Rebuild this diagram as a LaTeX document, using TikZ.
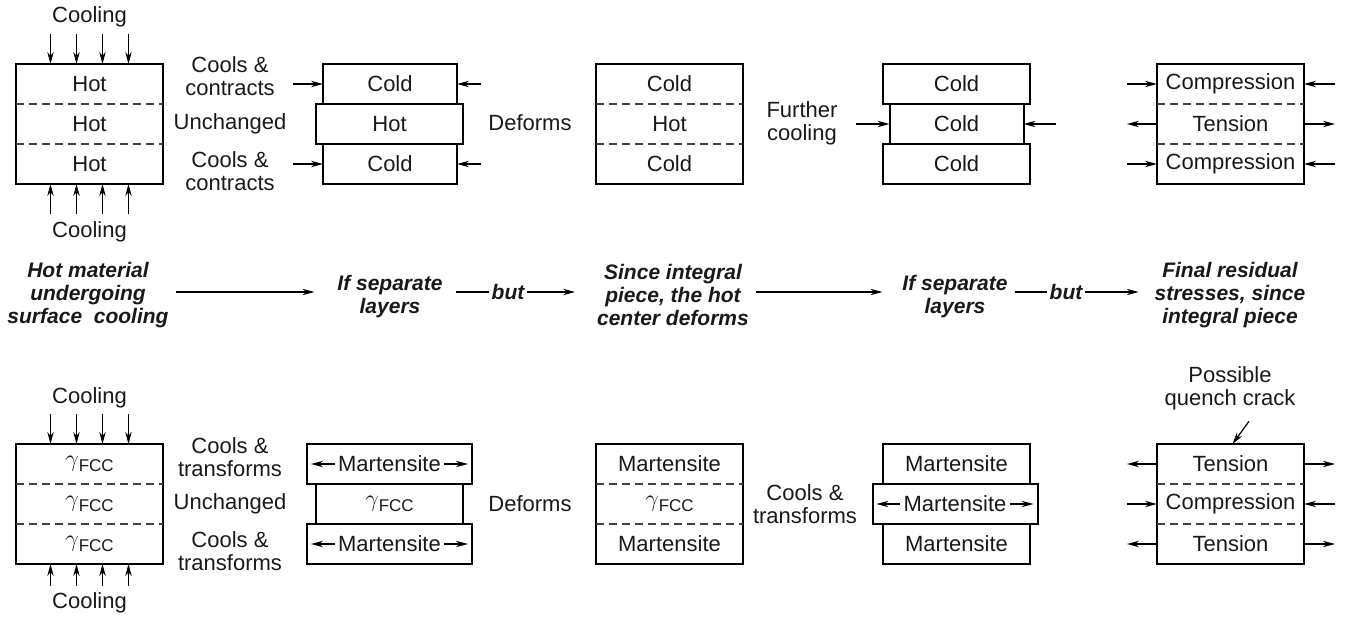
\documentclass[tikz,border=0pt]{standalone}
\usepackage{fontspec}
\setmainfont{Liberation Sans}
\usetikzlibrary{arrows.meta}

\newcommand{\lbl}{\fontsize{11}{11.5}\selectfont}
\newcommand{\flowfont}{\fontsize{10.5}{11.5}\selectfont\bfseries\itshape}
\newcommand{\gfcc}{{\fontsize{13}{13}\selectfont$\gamma$}\raisebox{-0.45ex}{\fontsize{8.5}{9}\selectfont FCC}}

\begin{document}
\begin{tikzpicture}[x=0.5pt, y=-0.5pt,
  >={Stealth[length=6pt,width=3.2pt]},
  every node/.style={font=\lbl, text=black!90, align=center},
  layer/.style={minimum height=20pt, inner sep=0pt, outer sep=0pt},
  wide/.style={minimum width=73.5pt},
  narrow/.style={minimum width=67pt},
  swollen/.style={minimum width=82.5pt},
  slab/.style={layer, draw, line width=1pt},
  frame/.style={line width=1pt},
  seam/.style={dash pattern=on 4pt off 2.5pt, line width=0.6pt, black!75},
  force/.style={->, line width=0.6pt},
  flow/.style={font=\flowfont},
  tag/.style={inner sep=1.5pt}]

\useasboundingbox (0,0) rectangle (1345,625);

%%% upper row: plain cooling

% hot piece, cooled from both faces
\node (h1) [layer, wide] at (89.5,84) {Hot};
\node (h2) [layer, wide] at (89.5,124) {Hot};
\node (h3) [layer, wide] at (89.5,164) {Hot};
\draw [frame] (h1.north west) rectangle (h3.south east);
\draw [seam] (h1.south west) -- (h1.south east);
\draw [seam] (h2.south west) -- (h2.south east);
\node (cool1) at (89.5,17) {Cooling};
\node (cool2) at (89.5,232) {Cooling};
\foreach \dx in {-19.5,-6.5,6.5,19.5} {
  \draw [force] ([xshift=\dx pt,yshift=15pt]h1.north) -- ([xshift=\dx pt]h1.north);
  \draw [force] ([xshift=\dx pt,yshift=-15pt]h3.south) -- ([xshift=\dx pt]h3.south);
}

\node (cc1) at (230,76) {Cools \&\\contracts};
\node (un1) at (230,124) {Unchanged};
\node (cc2) at (230,171) {Cools \&\\contracts};

% layers taken apart
\node (s1) [slab, narrow] at (390,84) {Cold};
\node (s2) [slab, wide] at (389.5,124) {Hot};
\node (s3) [slab, narrow] at (390,164) {Cold};
\draw [force] ([xshift=-15pt]s1.west) -- (s1.west);
\draw [force] ([xshift=12pt]s1.east) -- (s1.east);
\draw [force] ([xshift=-15pt]s3.west) -- (s3.west);
\draw [force] ([xshift=12pt]s3.east) -- (s3.east);

\node (df1) at (530,123) {Deforms};

% one piece again
\node (d1) [layer, wide] at (669.5,84) {Cold};
\node (d2) [layer, wide] at (669.5,124) {Hot};
\node (d3) [layer, wide] at (669.5,164) {Cold};
\draw [frame] (d1.north west) rectangle (d3.south east);
\draw [seam] (d1.south west) -- (d1.south east);
\draw [seam] (d2.south west) -- (d2.south east);

\node (fc) at (802,123.5) {Further\\cooling};

\node (f1) [slab, wide] at (956.5,84) {Cold};
\node (f2) [slab, narrow] at (956.5,124) {Cold};
\node (f3) [slab, wide] at (956.5,164) {Cold};
\draw [force] ([xshift=-17pt]f2.west) -- (f2.west);
\draw [force] ([xshift=16pt]f2.east) -- (f2.east);

% residual stresses
\node (r1) [layer, wide] at (1230.5,84) {Compression};
\node (r2) [layer, wide] at (1230.5,124) {Tension};
\node (r3) [layer, wide] at (1230.5,164) {Compression};
\draw [frame] (r1.north west) rectangle (r3.south east);
\draw [seam] (r1.south west) -- (r1.south east);
\draw [seam] (r2.south west) -- (r2.south east);
\draw [force] ([xshift=-15pt]r1.west) -- (r1.west);
\draw [force] ([xshift=15.5pt]r1.east) -- (r1.east);
\draw [force] (r2.west) -- ([xshift=-15pt]r2.west);
\draw [force] (r2.east) -- ([xshift=15.5pt]r2.east);
\draw [force] ([xshift=-15pt]r3.west) -- (r3.west);
\draw [force] ([xshift=15.5pt]r3.east) -- (r3.east);

%%% middle: reading of the steps
\node (m1) [flow] at (88,295) {Hot material\\undergoing\\surface\ \ cooling};
\node (p1) [flow] at (390,297) {If separate\\layers};
\node (b1) [flow, inner sep=1pt] at (508,292) {but};
\node (m2) [flow] at (673,295) {Since integral\\piece, the hot\\center deforms};
\node (p2) [flow] at (955,297) {If separate\\layers};
\node (b2) [flow, inner sep=1pt] at (1066,292) {but};
\node (m3) [flow] at (1230,295) {Final residual\\stresses, since\\integral piece};

\draw [force, shorten >=8pt] (m1.east |- b1.west) -- (p1.west |- b1.west);
\draw [line width=0.6pt, shorten <=3pt] (p1.east |- b1.west) -- (b1.west);
\draw [force, shorten >=7.5pt] (b1.east) -- (m2.west |- b1.east);
\draw [force, shorten >=6.5pt] (m2.east |- b1.west) -- (p2.west |- b1.west);
\draw [line width=0.6pt] (p2.east |- b2.west) -- (b2.west);
\draw [force, shorten >=4.5pt] (b2.east) -- (m3.west |- b2.east);

%%% lower row: quenching with martensite

\node (q1) [layer, wide] at (89.5,464) {\gfcc};
\node (q2) [layer, wide] at (89.5,504) {\gfcc};
\node (q3) [layer, wide] at (89.5,544) {\gfcc};
\draw [frame] (q1.north west) rectangle (q3.south east);
\draw [seam] (q1.south west) -- (q1.south east);
\draw [seam] (q2.south west) -- (q2.south east);
\node (cool3) at (89.5,398) {Cooling};
\node (cool4) at (89.5,603) {Cooling};
\foreach \dx in {-19.5,-6.5,6.5,19.5} {
  \draw [force] ([xshift=\dx pt,yshift=15pt]q1.north) -- ([xshift=\dx pt]q1.north);
  \draw [force] ([xshift=\dx pt,yshift=-11pt]q3.south) -- ([xshift=\dx pt]q3.south);
}

\node (ct1) at (230,457.5) {Cools \&\\transforms};
\node (un2) at (230,504) {Unchanged};
\node (ct2) at (230,551.5) {Cools \&\\transforms};

% martensite layers grow
\node (qs1) [slab, swollen] at (389.5,464) {};
\node (qs1t) [tag] at (qs1) {Martensite};
\node (qs2) [slab, wide] at (389.5,504) {\gfcc};
\node (qs3) [slab, swollen] at (389.5,544) {};
\node (qs3t) [tag] at (qs3) {Martensite};
\draw [force, shorten >=2pt] (qs1t.west) -- (qs1.west);
\draw [force, shorten >=2pt] (qs1t.east) -- (qs1.east);
\draw [force, shorten >=2pt] (qs3t.west) -- (qs3.west);
\draw [force, shorten >=2pt] (qs3t.east) -- (qs3.east);

\node (df2) at (530,504) {Deforms};

\node (qd1) [layer, wide] at (669.5,464) {Martensite};
\node (qd2) [layer, wide] at (669.5,504) {\gfcc};
\node (qd3) [layer, wide] at (669.5,544) {Martensite};
\draw [frame] (qd1.north west) rectangle (qd3.south east);
\draw [seam] (qd1.south west) -- (qd1.south east);
\draw [seam] (qd2.south west) -- (qd2.south east);

\node (ct3) at (805,504) {Cools \&\\transforms};

\node (qf1) [slab, wide] at (956.5,464) {Martensite};
\node (qf2) [slab, swollen] at (955,504) {};
\node (qf2t) [tag] at (qf2) {Martensite};
\node (qf3) [slab, wide] at (956.5,544) {Martensite};
\draw [force, shorten >=2pt] (qf2t.west) -- (qf2.west);
\draw [force, shorten >=2pt] (qf2t.east) -- (qf2.east);

% final state, tension at the faces
\node (qr1) [layer, wide] at (1230.5,464) {Tension};
\node (qr2) [layer, wide] at (1230.5,504) {Compression};
\node (qr3) [layer, wide] at (1230.5,544) {Tension};
\draw [frame] (qr1.north west) rectangle (qr3.south east);
\draw [seam] (qr1.south west) -- (qr1.south east);
\draw [seam] (qr2.south west) -- (qr2.south east);
\draw [force] (qr1.west) -- ([xshift=-15pt]qr1.west);
\draw [force] (qr1.east) -- ([xshift=15.5pt]qr1.east);
\draw [force] ([xshift=-15pt]qr2.west) -- (qr2.west);
\draw [force] ([xshift=15.5pt]qr2.east) -- (qr2.east);
\draw [force] (qr3.west) -- ([xshift=-15pt]qr3.west);
\draw [force] (qr3.east) -- ([xshift=15.5pt]qr3.east);

\node (crack) at (1230,388.5) {Possible\\quench crack};
\draw [force] ([xshift=9.5pt,yshift=-2pt]crack.south) -- ([xshift=1pt]qr1.north);

\end{tikzpicture}
\end{document}
